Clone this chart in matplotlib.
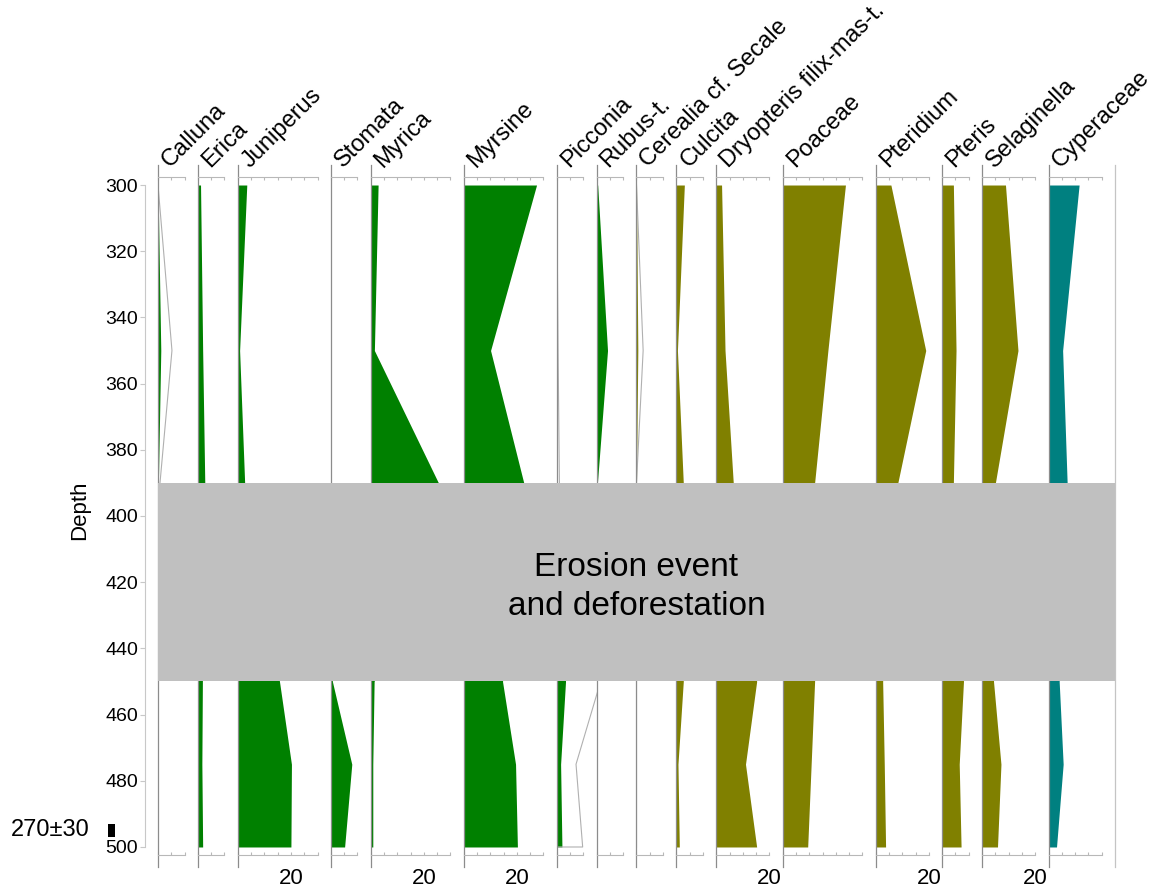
import numpy as np
import matplotlib
matplotlib.use("Agg")
import matplotlib.pyplot as plt
from matplotlib.transforms import offset_copy

plt.rcParams['font.family'] = ['Liberation Sans', 'DejaVu Sans']

# sample depths (cm); 390-450 is the erosion hiatus
depths = [300, 350, 390, 450, 475, 500]

# percentages per taxon at each depth
calluna = [0.0, 1.05, 0.15, 0.0, 0.0, 0.0]
erica = [1.0, 1.8, 2.6, 1.7, 1.5, 1.8]
juniperus = [3.4, 0.7, 2.6, 15.7, 20.2, 20.0]
stomata = [0.0, 0.0, 0.0, 0.6, 7.9, 5.2]
myrica = [2.8, 1.4, 25.5, 1.3, 0.8, 0.8]
myrsine = [27.4, 10.1, 22.6, 14.6, 19.5, 20.2]
picconia = [0.0, 0.1, 0.2, 3.3, 1.45, 1.95]
rubus = [0.4, 4.1, 0.3, 0.0, 0.0, 0.0]
cerealia = [0.0, 0.5, 0.0, 0.0, 0.0, 0.0]
culcita = [3.0, 0.4, 2.6, 2.6, 0.6, 1.1]
dryopteris = [2.0, 3.3, 6.4, 15.2, 11.0, 15.2]
poaceae = [23.6, 17.0, 12.0, 12.0, 10.7, 9.4]
pteridium = [5.7, 18.8, 8.3, 2.6, 3.2, 3.7]
pteris = [4.2, 5.2, 4.2, 8.0, 6.4, 7.1]
selaginella = [8.8, 13.5, 5.0, 4.3, 7.1, 5.8]
cyperaceae = [11.5, 5.3, 7.0, 4.0, 5.5, 3.0]

# radiocarbon date marker
date_label = "270±30"
date_depth = [493, 497]

hiatus = [390, 450]
hiatus_text = "Erosion event\nand deforestation"

GREEN, OLIVE, TEAL = '#008000', '#808000', '#008080'

# name, values, axis max (%), colour, 5x exaggeration, label "20"
panels = [
    ('Calluna', calluna, 10, GREEN, True, False),
    ('Erica', erica, 10, GREEN, False, False),
    ('Juniperus', juniperus, 30, GREEN, False, True),
    ('Stomata', stomata, 10, GREEN, False, False),
    ('Myrica', myrica, 30, GREEN, False, True),
    ('Myrsine', myrsine, 30, GREEN, False, True),
    ('Picconia', picconia, 10, GREEN, True, False),
    ('Rubus-t.', rubus, 10, GREEN, False, False),
    ('Cerealia cf. Secale', cerealia, 10, OLIVE, True, False),
    ('Culcita', culcita, 10, OLIVE, False, False),
    ('Dryopteris filix-mas-t.', dryopteris, 20, OLIVE, False, True),
    ('Poaceae', poaceae, 30, OLIVE, False, False),
    ('Pteridium', pteridium, 20, OLIVE, False, True),
    ('Pteris', pteris, 10, OLIVE, False, False),
    ('Selaginella', selaginella, 20, OLIVE, False, True),
    ('Cyperaceae', cyperaceae, 20, TEAL, False, False),
]

W, H = 1158, 893
fig = plt.figure(figsize=(W / 100, H / 100), dpi=100)
fig.patch.set_facecolor('white')


def rect(x0, y0, x1, y1):
    return [x0 / W, 1 - y1 / H, (x1 - x0) / W, (y1 - y0) / H]


Y_TOP, Y_BOT = 177, 855
YLIM = (502.42, 297.58)
X0 = 158
GAP = 5
scale = (1115 - X0) / sum(p[2] + GAP for p in panels)

axes_col = '#b8b8b8'
zero_col = '#8c8c8c'

x = X0
for name, vals, xmax, col, exag, lab20 in panels:
    width = (xmax + GAP) * scale
    ax = fig.add_axes(rect(x, Y_TOP, x + width, Y_BOT))
    ax.set_facecolor('none')
    ax.set_xlim(0, xmax + GAP)
    ax.set_ylim(*YLIM)

    ax.fill_betweenx(depths, 0, vals, color=col, lw=0)
    if exag:
        ex = [5 * v for v in vals]
        ax.plot([0] + ex + [0], [depths[0]] + depths + [depths[-1]],
                color='#b0b0b0', lw=0.8)
    ax.plot([0, 0], [-0.018, 1.018], transform=ax.get_xaxis_transform(),
            color=zero_col, lw=0.9, clip_on=False)

    for s in ('left', 'right'):
        ax.spines[s].set_visible(False)
    for s in ('top', 'bottom'):
        ax.spines[s].set_bounds(0, xmax)
        ax.spines[s].set_color(axes_col)
        ax.spines[s].set_linewidth(0.8)
    ticks = np.arange(0, xmax + 1, 5)
    ax.set_xticks(ticks)
    ax.set_xticklabels(['20' if (lab20 and t == 20) else '' for t in ticks])
    ax.tick_params(axis='x', top=True, bottom=True, direction='in',
                   length=2.5, width=0.8, color=axes_col, labelsize=16, pad=9)
    ax.set_yticks([])

    tr = offset_copy(ax.transAxes, fig=fig, x=12, y=9, units='dots')
    ax.text(0, 1, name, transform=tr, rotation=45, rotation_mode='anchor',
            ha='left', va='baseline', fontsize=17)
    last_ax, last_w = ax, xmax + GAP
    x += width

# closing line on the right of the last panel
last_ax.plot([last_w, last_w], [-0.018, 1.018],
             transform=last_ax.get_xaxis_transform(),
             color='#c4c4c4', lw=0.9, clip_on=False)

# hiatus band over all panels
band = fig.add_axes(rect(X0, Y_TOP, 1115, Y_BOT), zorder=5)
band.set_facecolor('none')
band.set_ylim(*YLIM)
band.set_xlim(0, 1)
band.axhspan(hiatus[0], hiatus[1], color='#c0c0c0', lw=0)
band.text(0.5, sum(hiatus) / 2 + 1.5, hiatus_text, transform=band.get_yaxis_transform(),
          ha='center', va='center', fontsize=24, linespacing=1.35)
band.axis('off')

# depth axis
dax = fig.add_axes(rect(100, Y_TOP, 158, Y_BOT))
dax.set_facecolor('none')
dax.set_xlim(0, 58)
dax.set_ylim(*YLIM)
for s in ('top', 'right', 'bottom'):
    dax.spines[s].set_visible(False)
dax.spines['left'].set_position(('data', 45))
dax.spines['left'].set_bounds(300, 500)
dax.spines['left'].set_color('#c8c8c8')
dax.set_yticks(range(300, 501, 20))
dax.tick_params(axis='y', direction='out', length=3.6, width=0.8,
                color='#c8c8c8', labelsize=14, pad=1.5)
dax.set_xticks([])
dax.fill_betweenx(date_depth, 8, 15, color='black', lw=0)
dax.text(-10, sum(date_depth) / 2, date_label, ha='right', va='center', fontsize=17)

fig.text(80 / W, 1 - 510 / H, 'Depth', rotation=90, ha='center', va='center',
         fontsize=16)

fig.savefig('out.png', dpi=100)
